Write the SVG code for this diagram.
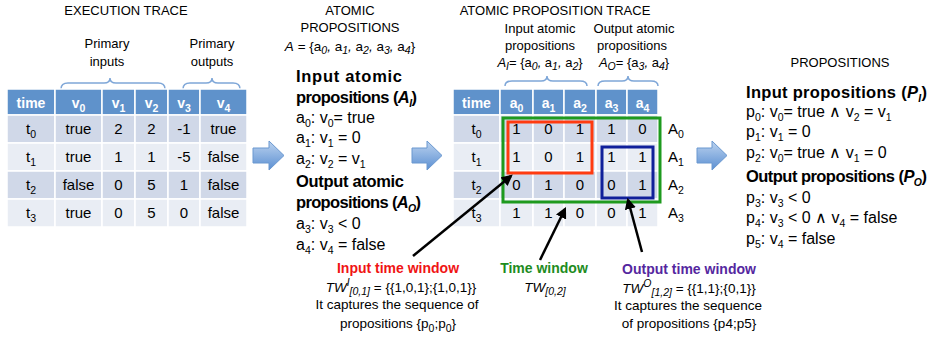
<svg xmlns="http://www.w3.org/2000/svg" width="933" height="337" viewBox="0 0 933 337">
<style>
text{font-family:"Liberation Sans",Arial,sans-serif;fill:#000}
.cap{font-size:13px;text-anchor:middle}
.lbl{font-size:13px;text-anchor:middle}
.set{font-size:13.5px;text-anchor:middle}
.cell{font-size:15px;text-anchor:middle}
.hd{font-size:14px;font-weight:bold;fill:#fff;text-anchor:middle}
.b{font-size:16.5px;font-weight:bold}
.r{font-size:16px}
.s{font-size:10.5px}
.i{font-style:italic}
.hdr{fill:#5F92CB;stroke:#fff;stroke-width:1.5}
.dk{fill:#D0D8E8;stroke:#fff;stroke-width:1.5}
.lt{fill:#E9EDF4;stroke:#fff;stroke-width:1.5}
.brace{fill:none;stroke:#7FA7D8;stroke-width:1.5}
.blk{fill:url(#bg);stroke:#6A98D0;stroke-width:1}
.ptr{stroke:#000;stroke-width:2.5;fill:none;marker-end:url(#ah)}
.win{font-size:14px;font-weight:bold;text-anchor:middle}
.note{font-size:13.5px;text-anchor:middle}
</style>
<defs>
<linearGradient id="bg" x1="0" y1="0" x2="0" y2="1">
<stop offset="0" stop-color="#BCD3EF"/>
<stop offset="1" stop-color="#5B8FD2"/>
</linearGradient>
<marker id="ah" viewBox="0 0 10 10" refX="8" refY="5" markerWidth="4.5" markerHeight="4.5" orient="auto" markerUnits="strokeWidth">
<path d="M0,0 L10,5 L0,10 Z" fill="#000"/>
</marker>
</defs>

<g id="execution-trace">
<text class="cap" x="126" y="15">EXECUTION TRACE</text>
<text class="lbl" x="107" y="48">Primary</text>
<text class="lbl" x="107" y="66">inputs</text>
<text class="lbl" x="212" y="48">Primary</text>
<text class="lbl" x="212" y="66">outputs</text>
<path class="brace" d="M61,89 Q61,83 68,83 L104,83 Q110,83 110,78 Q110,83 116,83 L158,83 Q165,83 165,89"/>
<path class="brace" d="M183,89 Q183,83 190,83 L206,83 Q212,83 212,78 Q212,83 218,83 L233,83 Q240,83 240,89"/>
<rect class="hdr" x="7" y="89" width="48" height="26"/>
<rect class="hdr" x="55" y="89" width="47" height="26"/>
<rect class="hdr" x="102" y="89" width="33" height="26"/>
<rect class="hdr" x="135" y="89" width="33" height="26"/>
<rect class="hdr" x="168" y="89" width="32" height="26"/>
<rect class="hdr" x="200" y="89" width="47" height="26"/>
<g>
<rect class="dk" x="7" y="115" width="48" height="28"/><rect class="dk" x="55" y="115" width="47" height="28"/><rect class="dk" x="102" y="115" width="33" height="28"/><rect class="dk" x="135" y="115" width="33" height="28"/><rect class="dk" x="168" y="115" width="32" height="28"/><rect class="dk" x="200" y="115" width="47" height="28"/>
<rect class="lt" x="7" y="143" width="48" height="28"/><rect class="lt" x="55" y="143" width="47" height="28"/><rect class="lt" x="102" y="143" width="33" height="28"/><rect class="lt" x="135" y="143" width="33" height="28"/><rect class="lt" x="168" y="143" width="32" height="28"/><rect class="lt" x="200" y="143" width="47" height="28"/>
<rect class="dk" x="7" y="171" width="48" height="28"/><rect class="dk" x="55" y="171" width="47" height="28"/><rect class="dk" x="102" y="171" width="33" height="28"/><rect class="dk" x="135" y="171" width="33" height="28"/><rect class="dk" x="168" y="171" width="32" height="28"/><rect class="dk" x="200" y="171" width="47" height="28"/>
<rect class="lt" x="7" y="199" width="48" height="28"/><rect class="lt" x="55" y="199" width="47" height="28"/><rect class="lt" x="102" y="199" width="33" height="28"/><rect class="lt" x="135" y="199" width="33" height="28"/><rect class="lt" x="168" y="199" width="32" height="28"/><rect class="lt" x="200" y="199" width="47" height="28"/>
</g>
<text class="hd" x="31" y="108">time</text>
<text class="hd" x="78.5" y="108">v<tspan class="s" dy="4">0</tspan></text>
<text class="hd" x="118.5" y="108">v<tspan class="s" dy="4">1</tspan></text>
<text class="hd" x="151.5" y="108">v<tspan class="s" dy="4">2</tspan></text>
<text class="hd" x="184" y="108">v<tspan class="s" dy="4">3</tspan></text>
<text class="hd" x="223.5" y="108">v<tspan class="s" dy="4">4</tspan></text>
<text class="cell" x="31" y="134">t<tspan class="s" dy="4">0</tspan></text>
<text class="cell" x="31" y="162">t<tspan class="s" dy="4">1</tspan></text>
<text class="cell" x="31" y="190">t<tspan class="s" dy="4">2</tspan></text>
<text class="cell" x="31" y="218">t<tspan class="s" dy="4">3</tspan></text>
<text class="cell" x="78.5" y="134">true</text><text class="cell" x="118.5" y="134">2</text><text class="cell" x="151.5" y="134">2</text><text class="cell" x="184" y="134">-1</text><text class="cell" x="223.5" y="134">true</text>
<text class="cell" x="78.5" y="162">true</text><text class="cell" x="118.5" y="162">1</text><text class="cell" x="151.5" y="162">1</text><text class="cell" x="184" y="162">-5</text><text class="cell" x="223.5" y="162">false</text>
<text class="cell" x="78.5" y="190">false</text><text class="cell" x="118.5" y="190">0</text><text class="cell" x="151.5" y="190">5</text><text class="cell" x="184" y="190">1</text><text class="cell" x="223.5" y="190">false</text>
<text class="cell" x="78.5" y="218">true</text><text class="cell" x="118.5" y="218">0</text><text class="cell" x="151.5" y="218">5</text><text class="cell" x="184" y="218">0</text><text class="cell" x="223.5" y="218">false</text>
</g>

<g id="atomic-propositions">
<text class="cap" x="350" y="15">ATOMIC</text>
<text class="cap" x="350" y="32">PROPOSITIONS</text>
<text class="set" x="350" y="51"><tspan class="i">A</tspan> = {a<tspan class="s i" dy="3">0</tspan><tspan class="i" dy="-3">,</tspan> a<tspan class="s i" dy="3">1</tspan><tspan class="i" dy="-3">,</tspan> a<tspan class="s i" dy="3">2</tspan><tspan class="i" dy="-3">,</tspan> a<tspan class="s i" dy="3">3</tspan><tspan class="i" dy="-3">,</tspan> a<tspan class="s i" dy="3">4</tspan><tspan dy="-3">}</tspan></text>
<text class="b" x="296" y="82" textLength="106">Input atomic</text>
<text class="b" x="296" y="103" textLength="121">propositions (<tspan class="i">A</tspan><tspan class="s i" dy="4">I</tspan><tspan dy="-4">)</tspan></text>
<text class="r" x="296" y="123">a<tspan class="s" dy="4">0</tspan><tspan dy="-4">: v</tspan><tspan class="s" dy="4">0</tspan><tspan dy="-4">= true</tspan></text>
<text class="r" x="296" y="143">a<tspan class="s" dy="4">1</tspan><tspan dy="-4">: v</tspan><tspan class="s" dy="4">1</tspan><tspan dy="-4"> = 0</tspan></text>
<text class="r" x="296" y="164">a<tspan class="s" dy="4">2</tspan><tspan dy="-4">: v</tspan><tspan class="s" dy="4">2</tspan><tspan dy="-4"> = v</tspan><tspan class="s" dy="4">1</tspan></text>
<text class="b" x="296" y="187" textLength="108">Output atomic</text>
<text class="b" x="296" y="208" textLength="125">propositions (<tspan class="i">A</tspan><tspan class="s i" dy="4">O</tspan><tspan dy="-4">)</tspan></text>
<text class="r" x="296" y="229">a<tspan class="s" dy="4">3</tspan><tspan dy="-4">: v</tspan><tspan class="s" dy="4">3</tspan><tspan dy="-4"> &lt; 0</tspan></text>
<text class="r" x="296" y="250">a<tspan class="s" dy="4">4</tspan><tspan dy="-4">: v</tspan><tspan class="s" dy="4">4</tspan><tspan dy="-4"> = false</tspan></text>
</g>

<g id="atomic-proposition-trace">
<text class="cap" x="555" y="15">ATOMIC PROPOSITION TRACE</text>
<text class="lbl" x="540" y="33">Input atomic</text>
<text class="lbl" x="540" y="50">propositions</text>
<text class="lbl" x="540" y="67"><tspan class="i">A</tspan><tspan class="s i" dy="3">I</tspan><tspan dy="-3">= {a</tspan><tspan class="s i" dy="3">0</tspan><tspan class="i" dy="-3">,</tspan> a<tspan class="s i" dy="3">1</tspan><tspan class="i" dy="-3">,</tspan> a<tspan class="s i" dy="3">2</tspan><tspan dy="-3">}</tspan></text>
<text class="lbl" x="634" y="33">Output atomic</text>
<text class="lbl" x="632" y="50">propositions</text>
<text class="lbl" x="634" y="67"><tspan class="i">A</tspan><tspan class="s i" dy="3">O</tspan><tspan dy="-3">= {a</tspan><tspan class="s i" dy="3">3</tspan><tspan class="i" dy="-3">,</tspan> a<tspan class="s i" dy="3">4</tspan><tspan dy="-3">}</tspan></text>
<path class="brace" d="M505,86 Q505,81 512,81 L541,81 Q547,81 547,76 Q547,81 553,81 L580,81 Q587,81 587,86"/>
<path class="brace" d="M598,86 Q598,81 605,81 L622,81 Q628,81 628,76 Q628,81 634,81 L651,81 Q658,81 658,86"/>
<rect class="hdr" x="453" y="89" width="47" height="26"/>
<rect class="hdr" x="500" y="89" width="33" height="26"/>
<rect class="hdr" x="533" y="89" width="31" height="26"/>
<rect class="hdr" x="564" y="89" width="32" height="26"/>
<rect class="hdr" x="596" y="89" width="31" height="26"/>
<rect class="hdr" x="627" y="89" width="31" height="26"/>
<g>
<rect class="dk" x="453" y="115" width="47" height="28"/><rect class="dk" x="500" y="115" width="33" height="28"/><rect class="dk" x="533" y="115" width="31" height="28"/><rect class="dk" x="564" y="115" width="32" height="28"/><rect class="dk" x="596" y="115" width="31" height="28"/><rect class="dk" x="627" y="115" width="31" height="28"/>
<rect class="lt" x="453" y="143" width="47" height="28"/><rect class="lt" x="500" y="143" width="33" height="28"/><rect class="lt" x="533" y="143" width="31" height="28"/><rect class="lt" x="564" y="143" width="32" height="28"/><rect class="lt" x="596" y="143" width="31" height="28"/><rect class="lt" x="627" y="143" width="31" height="28"/>
<rect class="dk" x="453" y="171" width="47" height="28"/><rect class="dk" x="500" y="171" width="33" height="28"/><rect class="dk" x="533" y="171" width="31" height="28"/><rect class="dk" x="564" y="171" width="32" height="28"/><rect class="dk" x="596" y="171" width="31" height="28"/><rect class="dk" x="627" y="171" width="31" height="28"/>
<rect class="lt" x="453" y="199" width="47" height="28"/><rect class="lt" x="500" y="199" width="33" height="28"/><rect class="lt" x="533" y="199" width="31" height="28"/><rect class="lt" x="564" y="199" width="32" height="28"/><rect class="lt" x="596" y="199" width="31" height="28"/><rect class="lt" x="627" y="199" width="31" height="28"/>
</g>
<text class="hd" x="476.5" y="108">time</text>
<text class="hd" x="516.5" y="108">a<tspan class="s" dy="4">0</tspan></text>
<text class="hd" x="548.5" y="108">a<tspan class="s" dy="4">1</tspan></text>
<text class="hd" x="580" y="108">a<tspan class="s" dy="4">2</tspan></text>
<text class="hd" x="611.5" y="108">a<tspan class="s" dy="4">3</tspan></text>
<text class="hd" x="642.5" y="108">a<tspan class="s" dy="4">4</tspan></text>
<text class="cell" x="476.5" y="134">t<tspan class="s" dy="4">0</tspan></text>
<text class="cell" x="476.5" y="162">t<tspan class="s" dy="4">1</tspan></text>
<text class="cell" x="476.5" y="190">t<tspan class="s" dy="4">2</tspan></text>
<text class="cell" x="476.5" y="218">t<tspan class="s" dy="4">3</tspan></text>
<text class="cell" x="516.5" y="134">1</text><text class="cell" x="548.5" y="134">0</text><text class="cell" x="580" y="134">1</text><text class="cell" x="611.5" y="134">1</text><text class="cell" x="642.5" y="134">0</text>
<text class="cell" x="516.5" y="162">1</text><text class="cell" x="548.5" y="162">0</text><text class="cell" x="580" y="162">1</text><text class="cell" x="611.5" y="162">1</text><text class="cell" x="642.5" y="162">1</text>
<text class="cell" x="516.5" y="190">0</text><text class="cell" x="548.5" y="190">1</text><text class="cell" x="580" y="190">0</text><text class="cell" x="611.5" y="190">0</text><text class="cell" x="642.5" y="190">1</text>
<text class="cell" x="516.5" y="218">1</text><text class="cell" x="548.5" y="218">1</text><text class="cell" x="580" y="218">0</text><text class="cell" x="611.5" y="218">0</text><text class="cell" x="642.5" y="218">1</text>
<text class="cell" x="668" y="134" style="text-anchor:start">A<tspan class="s" dy="4">0</tspan></text>
<text class="cell" x="668" y="162" style="text-anchor:start">A<tspan class="s" dy="4">1</tspan></text>
<text class="cell" x="668" y="190" style="text-anchor:start">A<tspan class="s" dy="4">2</tspan></text>
<text class="cell" x="668" y="218" style="text-anchor:start">A<tspan class="s" dy="4">3</tspan></text>
</g>

<g id="time-window-box"><rect x="503" y="118" width="157" height="84" fill="none" stroke="#1E9A1E" stroke-width="3"/></g>
<g id="input-window-box"><rect x="508" y="122" width="84" height="51" fill="none" stroke="#FF3B10" stroke-width="3"/></g>
<g id="output-window-box"><rect x="602" y="147" width="51" height="51" fill="none" stroke="#10209A" stroke-width="3"/></g>

<g id="propositions">
<text class="cap" x="840" y="67">PROPOSITIONS</text>
<text class="b" x="746" y="98" textLength="181">Input propositions (<tspan class="i">P</tspan><tspan class="s i" dy="4">I</tspan><tspan dy="-4">)</tspan></text>
<text class="r" x="746" y="117">p<tspan class="s" dy="4">0</tspan><tspan dy="-4">: v</tspan><tspan class="s" dy="4">0</tspan><tspan dy="-4">= true ∧ v</tspan><tspan class="s" dy="4">2</tspan><tspan dy="-4"> = v</tspan><tspan class="s" dy="4">1</tspan></text>
<text class="r" x="746" y="137">p<tspan class="s" dy="4">1</tspan><tspan dy="-4">: v</tspan><tspan class="s" dy="4">1</tspan><tspan dy="-4"> = 0</tspan></text>
<text class="r" x="746" y="158">p<tspan class="s" dy="4">2</tspan><tspan dy="-4">: v</tspan><tspan class="s" dy="4">0</tspan><tspan dy="-4">= true ∧ v</tspan><tspan class="s" dy="4">1</tspan><tspan dy="-4"> = 0</tspan></text>
<text class="b" x="746" y="182" textLength="181">Output propositions (<tspan class="i">P</tspan><tspan class="s i" dy="4">O</tspan><tspan dy="-4">)</tspan></text>
<text class="r" x="746" y="203">p<tspan class="s" dy="4">3</tspan><tspan dy="-4">: v</tspan><tspan class="s" dy="4">3</tspan><tspan dy="-4"> &lt; 0</tspan></text>
<text class="r" x="746" y="223">p<tspan class="s" dy="4">4</tspan><tspan dy="-4">: v</tspan><tspan class="s" dy="4">3</tspan><tspan dy="-4"> &lt; 0 ∧ v</tspan><tspan class="s" dy="4">4</tspan><tspan dy="-4"> = false</tspan></text>
<text class="r" x="746" y="244">p<tspan class="s" dy="4">5</tspan><tspan dy="-4">: v</tspan><tspan class="s" dy="4">4</tspan><tspan dy="-4"> = false</tspan></text>
</g>

<g id="input-time-window">
<text class="win" x="398" y="273" style="fill:#F01414">Input time window</text>
<text class="note" x="401" y="292"><tspan class="i">TW</tspan><tspan class="s i" dy="-6">I</tspan><tspan class="s i" dy="9">[0,1]</tspan><tspan dy="-3"> = {{1,0,1};{1,0,1}}</tspan></text>
<text class="note" x="397" y="309">It captures the sequence of</text>
<text class="note" x="398" y="328">propositions {p<tspan class="s" dy="4">0</tspan><tspan dy="-4">;p</tspan><tspan class="s" dy="4">0</tspan><tspan dy="-4">}</tspan></text>
</g>
<g id="time-window">
<text class="win" x="544" y="273" style="fill:#1E8C1E">Time window</text>
<text class="note" x="545" y="292"><tspan class="i">TW</tspan><tspan class="s i" dy="3">[0,2]</tspan></text>
</g>
<g id="output-time-window">
<text class="win" x="689" y="274" style="fill:#55279F">Output time window</text>
<text class="note" x="689" y="293"><tspan class="i">TW</tspan><tspan class="s i" dy="-6">O</tspan><tspan class="s i" dy="9">[1,2]</tspan><tspan dy="-3"> = {{1,1};{0,1}}</tspan></text>
<text class="note" x="688" y="310">It captures the sequence</text>
<text class="note" x="689" y="328">of propositions {p4;p5}</text>
</g>

<g id="connectors">
<path class="blk" d="M253,148 L269,148 L269,141 L284,155.5 L269,170 L269,163 L253,163 Z"/>
<path class="blk" d="M412,148 L427,148 L427,141 L442,155.5 L427,170 L427,163 L412,163 Z"/>
<path class="blk" d="M697,148 L712,148 L712,141 L727,155.5 L712,170 L712,163 L697,163 Z"/>
<line class="ptr" x1="413" y1="256" x2="511" y2="176"/>
<line class="ptr" x1="540" y1="260" x2="565" y2="209"/>
<line class="ptr" x1="642" y1="252" x2="628" y2="200"/>
</g>
</svg>
